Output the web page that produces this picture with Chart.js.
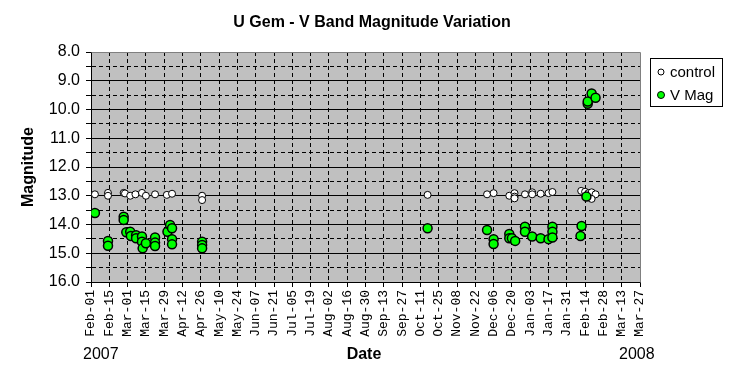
<!DOCTYPE html>
<html><head><meta charset="utf-8">
<script src="https://cdn.jsdelivr.net/npm/chart.js@4.4.0/dist/chart.umd.min.js"></script>
<style>html,body{margin:0;padding:0;background:#fff}#wrap{width:747px;height:381px}</style>
</head><body><div id="wrap"><canvas id="c" width="747" height="381"></canvas></div>
<script>
const chartTitle = 'U Gem - V Band Magnitude Variation';
const yAxisTitle = 'Magnitude';
const xAxisTitle = 'Date';
const startYear = '2007';
const endYear = '2008';
// x values are days since 2007-02-01
const xTickLabels = ['Feb-01','Feb-15','Mar-01','Mar-15','Mar-29','Apr-12','Apr-26','May-10','May-24','Jun-07','Jun-21','Jul-05','Jul-19','Aug-02','Aug-16','Aug-30','Sep-13','Sep-27','Oct-11','Oct-25','Nov-08','Nov-22','Dec-06','Dec-20','Jan-03','Jan-17','Jan-31','Feb-14','Feb-28','Mar-13','Mar-27'];
const controlDay = [3,13,13,25,26,30,34,39,42,49,58,62,85,85,257.5,303,308,320,324,324,324,332,337.5,337.5,344,350,353,375,378,380.5,383,386,383];
const controlMag = [12.95,12.9,13.0,12.9,12.92,13.0,12.95,12.9,13.0,12.95,12.97,12.93,13.0,13.15,12.97,12.95,12.91,13.0,12.91,13.03,13.09,12.95,12.88,12.95,12.93,12.91,12.87,12.83,12.86,12.91,12.88,12.95,13.11];
const vMagDay = [3,13,13,25,25,27,30,30.5,34.5,34.5,39,39,39.5,42,49,49,49,58.5,60.5,62,62,62,85,85,85,257.5,303,308,308,320,320,322,324.5,332,332,337.5,344,350,353,353,353,374.5,375.3,379,380,380,383,386];
const vMagValue = [13.6,14.57,14.74,13.73,13.84,14.27,14.25,14.4,14.37,14.48,14.42,14.6,14.83,14.65,14.45,14.63,14.75,14.25,14.02,14.13,14.51,14.69,14.6,14.71,14.83,14.13,14.19,14.51,14.68,14.33,14.48,14.48,14.57,14.08,14.25,14.42,14.48,14.51,14.08,14.25,14.45,14.4,14.05,13.03,9.8,9.72,9.44,9.59];

const toPts = (xs, ys) => xs.map((x, i) => ({x: x, y: ys[i]}));

const decor = {
  id: 'decor',
  beforeDatasetsDraw(chart) {
    const {ctx, chartArea: a} = chart;
    ctx.save();
    ctx.strokeStyle = '#808080';
    ctx.lineWidth = 1;
    ctx.beginPath();
    ctx.moveTo(Math.round(a.left) + 0.5, Math.round(a.top) + 0.5);
    ctx.lineTo(Math.round(a.right) + 0.5, Math.round(a.top) + 0.5);
    ctx.lineTo(Math.round(a.right) + 0.5, Math.round(a.bottom) + 0.5);
    ctx.stroke();
    ctx.restore();
  },
  beforeDraw(chart) {
    const {ctx, chartArea: a} = chart;
    ctx.save();
    ctx.fillStyle = '#C0C0C0';
    ctx.fillRect(a.left, a.top, a.right - a.left, a.bottom - a.top);
    ctx.restore();
  },
  afterDraw(chart) {
    const {ctx} = chart;
    ctx.save();
    ctx.fillStyle = '#000';
    ctx.textBaseline = 'middle';
    ctx.textAlign = 'center';
    ctx.font = 'bold 16px "Liberation Sans", Arial, sans-serif';
    ctx.fillText(chartTitle, 372, 23);
    ctx.fillText(xAxisTitle, 364, 355);
    ctx.save();
    ctx.translate(29, 167);
    ctx.rotate(-Math.PI / 2);
    ctx.fillText(yAxisTitle, 0, 0);
    ctx.restore();
    ctx.font = '16px "Liberation Sans", Arial, sans-serif';
    ctx.textAlign = 'left';
    ctx.fillText(startYear, 83, 355);
    ctx.fillText(endYear, 619, 355);
    // legend
    ctx.strokeStyle = '#000';
    ctx.lineWidth = 1;
    ctx.strokeRect(650.5, 58.5, 72, 48);
    ctx.font = '15px "Liberation Sans", Arial, sans-serif';
    const ds = chart.data.datasets;
    const rows = [72, 95];
    ds.forEach((d, i) => {
      ctx.beginPath();
      ctx.arc(661, rows[i], i === 0 ? 3 : 3.5, 0, Math.PI * 2);
      ctx.fillStyle = d.pointBackgroundColor;
      ctx.fill();
      ctx.lineWidth = 1;
      ctx.strokeStyle = '#000';
      ctx.stroke();
      ctx.fillStyle = '#000';
      ctx.fillText(d.label, 670, rows[i] + 1);
    });
    ctx.restore();
  }
};

new Chart(document.getElementById('c'), {
  type: 'scatter',
  data: {
    datasets: [
      {label: 'control', data: toPts(controlDay, controlMag), pointRadius: 3.5, pointBackgroundColor: '#FFFFFF', pointBorderColor: '#000000', pointBorderWidth: 1, order: 1},
      {label: 'V Mag', data: toPts(vMagDay, vMagValue), pointRadius: 4.5, pointBackgroundColor: '#00FF00', pointBorderColor: '#000000', pointBorderWidth: 1.5, order: 0}
    ]
  },
  options: {
    responsive: false,
    animation: false,
    devicePixelRatio: 1,
    layout: {padding: {left: 0, top: 52, right: 107, bottom: 39}},
    plugins: {legend: {display: false}, title: {display: false}, tooltip: {enabled: false}},
    scales: {
      x: {
        type: 'linear', min: 0, max: 420,
        afterFit(s) { s.height = 60; },
        ticks: {
          stepSize: 14, autoSkip: false, maxRotation: 90, minRotation: 90, padding: 3,
          color: '#000', font: {family: '"Liberation Mono", "Courier New", monospace', size: 13},
          callback: (v, i) => xTickLabels[i]
        },
        grid: {
          color: c => (c.index > 0 && c.index < xTickLabels.length - 1) ? '#000' : 'rgba(0,0,0,0)',
          lineWidth: 1, tickColor: '#000', tickLength: 5, tickBorderDash: [], drawTicks: true
        },
        border: {display: true, color: '#000', width: 1, dash: [4, 3]}
      },
      y: {
        type: 'linear', min: 8, max: 16, reverse: true,
        afterFit(s) { s.width = 91; },
        ticks: {
          stepSize: 0.5, autoSkip: false, padding: 6, color: '#000',
          font: {family: '"Liberation Sans", Arial, sans-serif', size: 16},
          callback: v => Number.isInteger(v) ? v.toFixed(1) : ''
        },
        grid: {
          color: c => (c.tick && c.tick.value > 8 && c.tick.value < 16) ? '#000' : 'rgba(0,0,0,0)',
          lineWidth: 1, tickColor: '#000', tickLength: 5, tickBorderDash: []
        },
        border: {display: true, color: '#000', width: 1,
          dash: c => (c.tick && !Number.isInteger(c.tick.value)) ? [4, 3] : []}
      }
    }
  },
  plugins: [decor]
});
</script>
</body></html>
